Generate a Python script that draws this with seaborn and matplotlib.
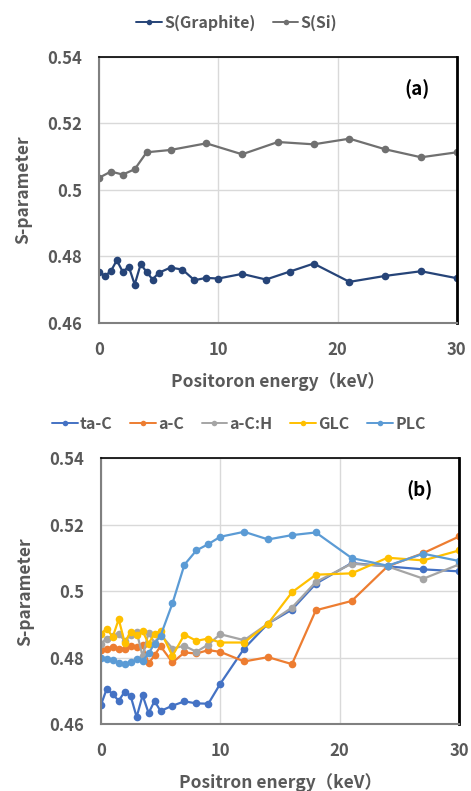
import matplotlib
matplotlib.use("Agg")
import matplotlib.pyplot as plt
import seaborn as sns
import pandas as pd

# ---------------- data ----------------
# Panel (a)
E_si = [0, 1, 2, 3, 4, 6, 9, 12, 15, 18, 21, 24, 27, 30]
S_si = [0.5036, 0.5055, 0.5046, 0.5062, 0.5113, 0.5120, 0.5140, 0.5107,
        0.5144, 0.5137, 0.5154, 0.5122, 0.5098, 0.5113]
E_gr = [0, 0.5, 1, 1.5, 2, 2.5, 3, 3.5, 4, 4.5, 5, 6, 7, 8, 9, 10, 12, 14,
        16, 18, 21, 24, 27, 30]
S_gr = [0.4754, 0.4741, 0.4755, 0.4788, 0.4753, 0.4769, 0.4715, 0.4776,
        0.4753, 0.4730, 0.4750, 0.4766, 0.4760, 0.4728, 0.4735, 0.4733,
        0.4747, 0.4730, 0.4754, 0.4778, 0.4723, 0.4741, 0.4755, 0.4734]

# Panel (b)
E_b = [0, 0.5, 1, 1.5, 2, 2.5, 3, 3.5, 4, 4.5, 5, 6, 7, 8, 9, 10, 12, 14,
       16, 18, 21, 24, 27, 30]
S_taC = [0.4657, 0.4707, 0.4690, 0.4671, 0.4698, 0.4685, 0.4622, 0.4687,
         0.4634, 0.4670, 0.4640, 0.4656, 0.4669, 0.4663, 0.4662, 0.4722,
         0.4828, 0.4903, 0.4945, 0.5023, 0.5085, 0.5075, 0.5066, 0.5060]
S_aC = [0.4825, 0.4826, 0.4834, 0.4828, 0.4826, 0.4835, 0.4832, 0.4838,
        0.4783, 0.4808, 0.4835, 0.4786, 0.4816, 0.4813, 0.4823, 0.4818,
        0.4789, 0.4802, 0.4781, 0.4943, 0.4971, 0.5075, 0.5115, 0.5165]
S_aCH = [0.4843, 0.4858, 0.4866, 0.4871, 0.4852, 0.4868, 0.4878, 0.4805,
         0.4876, 0.4845, 0.4870, 0.4828, 0.4836, 0.4818, 0.4840, 0.4871,
         0.4853, 0.4903, 0.4951, 0.5028, 0.5083, 0.5075, 0.5038, 0.5081]
S_GLC = [0.4873, 0.4887, 0.4863, 0.4916, 0.4846, 0.4878, 0.4868, 0.4880,
         0.4843, 0.4873, 0.4880, 0.4806, 0.4870, 0.4851, 0.4858, 0.4846,
         0.4846, 0.4903, 0.4997, 0.5050, 0.5054, 0.5101, 0.5093, 0.5123]
S_PLC = [0.4800, 0.4797, 0.4793, 0.4785, 0.4780, 0.4786, 0.4795, 0.4790,
         0.4813, 0.4843, 0.4866, 0.4964, 0.5080, 0.5123, 0.5142, 0.5164,
         0.5179, 0.5156, 0.5169, 0.5177, 0.5100, 0.5077, 0.5113, 0.5091]

names_a = ["S(Graphite)", "S(Si)"]
colors_a = ["#264478", "#707070"]
names_b = ["ta-C", "a-C", "a-C:H", "GLC", "PLC"]
colors_b = ["#4472C4", "#ED7D31", "#A5A5A5", "#FFC000", "#5B9BD5"]

y_ticks = [0.46, 0.48, 0.50, 0.52, 0.54]
y_ticklabels = ["0.46", "0.48", "0.5", "0.52", "0.54"]
x_ticks = [0, 10, 20, 30]
xlabel_a = "Positoron energy（keV）"
xlabel_b = "Positron energy（keV）"
ylabel = "S-parameter"

# ---------------- build tables ----------------
df_a = pd.concat([
    pd.DataFrame({"E": E_gr, "S": S_gr, "series": names_a[0]}),
    pd.DataFrame({"E": E_si, "S": S_si, "series": names_a[1]}),
], ignore_index=True)
frames = []
for n, s in zip(names_b, [S_taC, S_aC, S_aCH, S_GLC, S_PLC]):
    frames.append(pd.DataFrame({"E": E_b, "S": s, "series": n}))
df_b = pd.concat(frames, ignore_index=True)

# ---------------- style ----------------
sns.set_theme(style="white")
plt.rcParams["font.family"] = ["Noto Sans CJK JP", "DejaVu Sans"]

fig = plt.figure(figsize=(4.71, 7.91), dpi=100)
ax_a = fig.add_axes([0.210, 0.592, 0.760, 0.336])
ax_b = fig.add_axes([0.214, 0.0843, 0.761, 0.3363])

tick_col = "#595959"


def style(ax, data, names, colors, xlabel, tag):
    sns.lineplot(data=data, x="E", y="S", hue="series", hue_order=names,
                 palette=colors, marker="o", markersize=5.5,
                 markeredgewidth=0, linewidth=1.6, sort=False, ax=ax,
                 legend=True)
    ax.set_xlim(0, 30)
    ax.set_ylim(0.46, 0.54)
    ax.set_xticks(x_ticks)
    ax.set_yticks(y_ticks)
    ax.set_yticklabels(y_ticklabels)
    ax.grid(True, color="#D9D9D9", linewidth=1.0)
    ax.set_axisbelow(True)
    ax.tick_params(axis="both", length=0, labelsize=12,
                   labelcolor=tick_col)
    ax.tick_params(axis="y", pad=12)
    ax.tick_params(axis="x", pad=13)
    for lab in ax.get_xticklabels() + ax.get_yticklabels():
        lab.set_fontweight("bold")
    for side in ["left", "bottom"]:
        ax.spines[side].set_color("#808080")
        ax.spines[side].set_linewidth(1.5)
    ax.spines["top"].set_color("black")
    ax.spines["top"].set_linewidth(1.2)
    ax.spines["right"].set_color("black")
    ax.spines["right"].set_linewidth(2.0)
    ax.set_xlabel(xlabel, fontsize=12.5, fontweight="bold", color=tick_col)
    ax.set_ylabel(ylabel, fontsize=12.5, fontweight="bold", color=tick_col)
    ax.xaxis.set_label_coords(0.5, -0.185)
    ax.yaxis.set_label_coords(-0.187, 0.5)
    ax.text(0.89, 0.88, tag, transform=ax.transAxes, fontsize=13.5,
            fontweight="bold", ha="center", va="center", color="black")
    handles, labels = ax.get_legend_handles_labels()
    leg = ax.legend(handles, labels, loc="center",
                    bbox_to_anchor=(0.385, 1.13), ncol=len(names),
                    frameon=False, handlelength=1.6, handletextpad=0.15,
                    columnspacing=1.1, prop={"size": 11.5, "weight": "bold"},
                    borderaxespad=0)
    for t in leg.get_texts():
        t.set_color(tick_col)
    for h in leg.legend_handles:
        h.set_markersize(4)
        h.set_linewidth(1.4)


style(ax_a, df_a, names_a, colors_a, xlabel_a, "(a)")
style(ax_b, df_b, names_b, colors_b, xlabel_b, "(b)")

fig.savefig("out.png", dpi=100)
